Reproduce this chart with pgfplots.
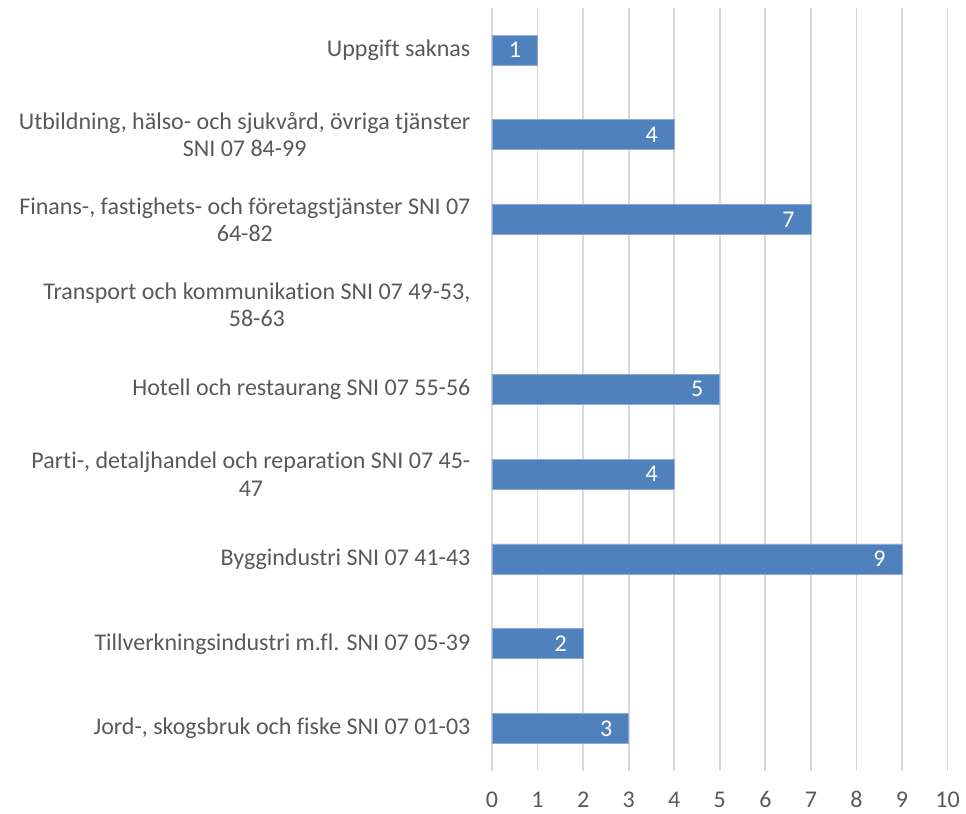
\documentclass[border=0pt]{standalone}
\usepackage{fontspec}
\setmainfont{Carlito}[Ligatures=NoCommon]
\usepackage{pgfplots}
\pgfplotsset{compat=1.18}
\definecolor{barblue}{HTML}{4F81BD}
\definecolor{baredge}{HTML}{8EAADB}
\definecolor{gridgray}{HTML}{D9D9D9}
\definecolor{txtgray}{HTML}{595959}
\begin{document}
\begin{tikzpicture}
\useasboundingbox (-369pt,-31.5pt) rectangle (355.5pt,578.3pt);
\begin{axis}[
  at={(0,0)}, anchor=south west,
  scale only axis,
  width=341.7pt, height=572.6pt,
  xbar, bar width=22.5pt,
  xmin=0, xmax=10,
  ymin=-0.5, ymax=8.5,
  xtick={0,1,...,10},
  ytick={0,1,...,8},
  yticklabels={
    {Jord-, skogsbruk och fiske SNI 07 01-03},
    {Tillverkningsindustri m.fl. SNI 07 05-39},
    {Byggindustri SNI 07 41-43},
    {Parti-, detaljhandel och reparation SNI 07 45-\\47},
    {Hotell och restaurang SNI 07 55-56},
    {Transport och kommunikation SNI 07 49-53,\\58-63},
    {Finans-, fastighets- och företagstjänster SNI 07\\64-82},
    {Utbildning, hälso- och sjukvård, övriga tjänster\\SNI 07 84-99},
    {Uppgift saknas}},
  /pgf/number format/assume math mode=true,
  axis line style={draw=none},
  major tick length=0pt,
  xmajorgrids,
  grid style={draw=gridgray, line width=1.3pt},
  tick label style={font=\fontsize{18}{20.5}\selectfont, text=txtgray},
  yticklabel style={align=center, anchor=east, inner sep=0pt, xshift=-16pt},
  xticklabel style={anchor=base, inner sep=0pt, yshift=-27.5pt},
  nodes near coords,
  every node near coord/.append style={anchor=east, inner sep=0pt, xshift=-12pt, text=white, font=\fontsize{18}{20.5}\selectfont},
]
\addplot[fill=barblue, draw=baredge, line width=0.6pt] coordinates {
  (3,0) (2,1) (9,2) (4,3) (5,4) (7,6) (4,7) (1,8)
};
\end{axis}
\end{tikzpicture}
\end{document}
